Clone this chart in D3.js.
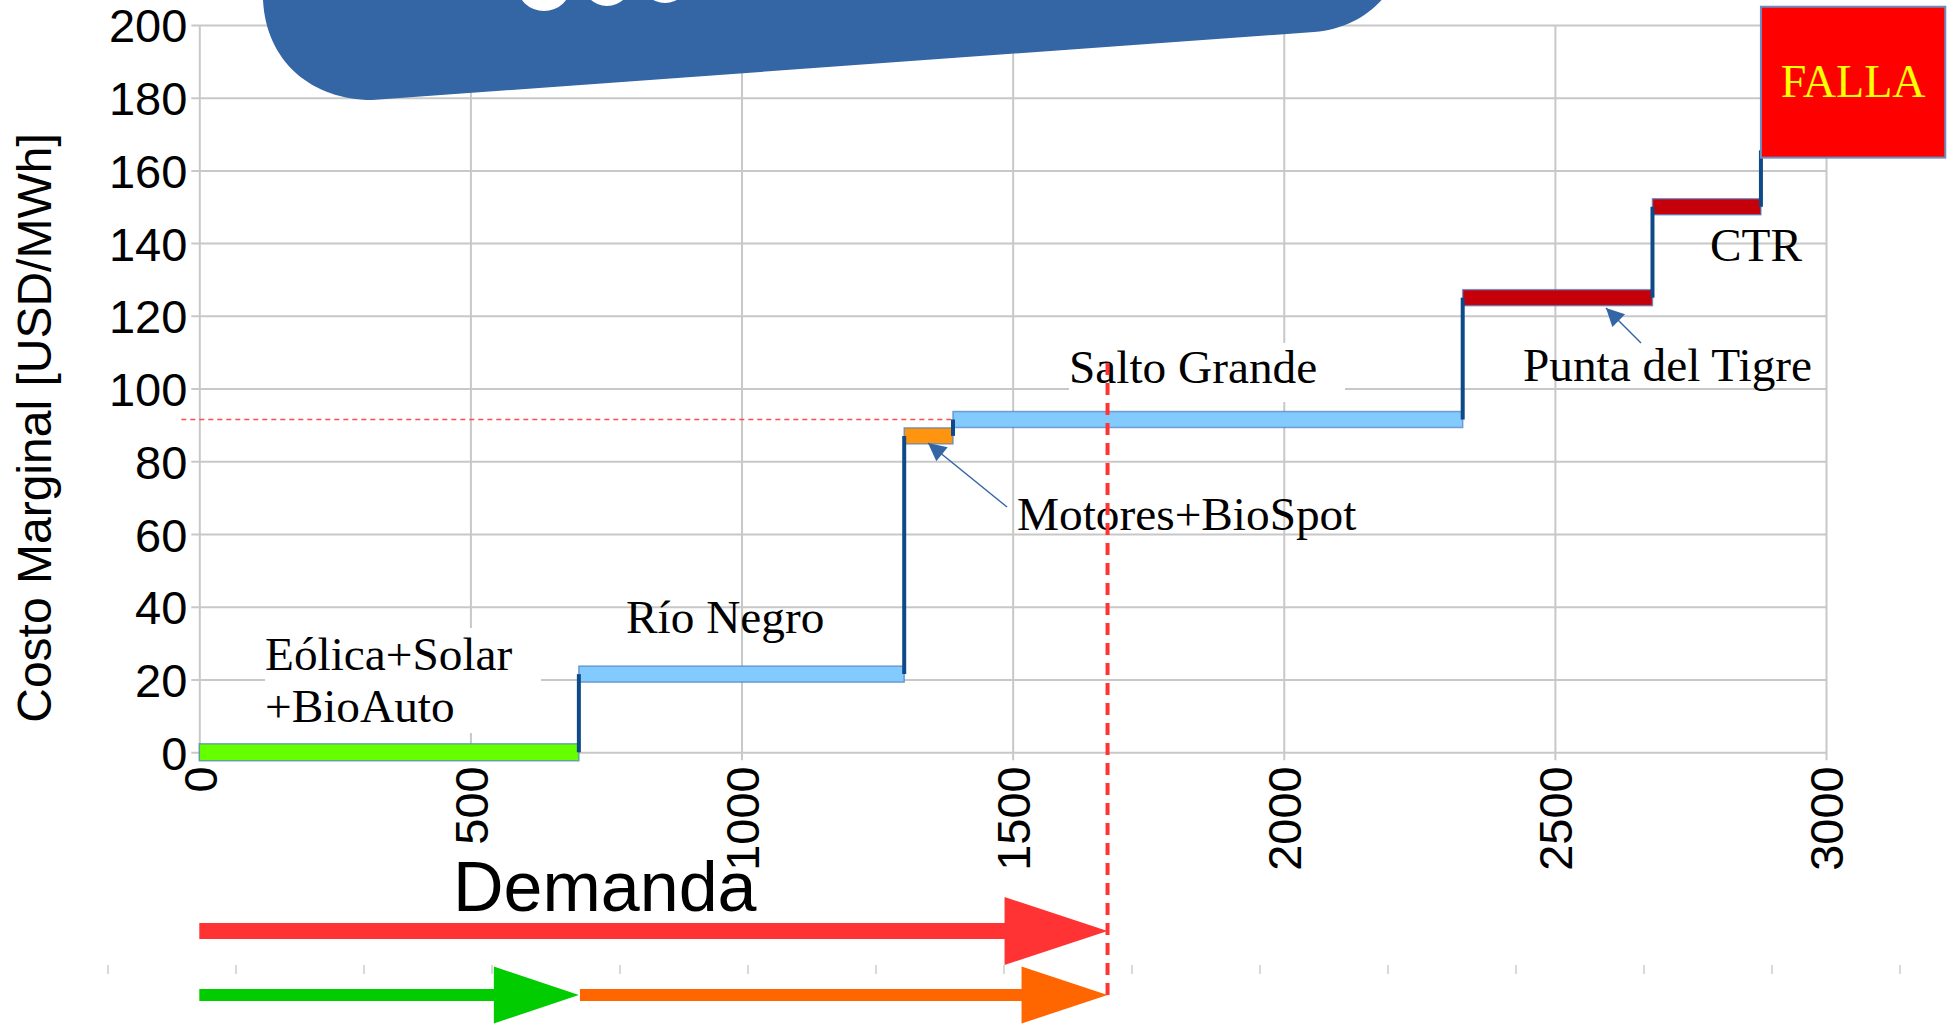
<!DOCTYPE html>
<html>
<head>
<meta charset="utf-8">
<script src="https://cdn.jsdelivr.net/npm/d3@7"></script>
<style>
  body { margin: 0; background: #ffffff; }
</style>
</head>
<body>
<script>
// Datos del despacho (tramos de la curva de oferta)
const tramos = ["Eólica+Solar+BioAuto", "Río Negro", "Motores+BioSpot", "Salto Grande", "Punta del Tigre", "CTR"];
const inicioMW = [0, 700, 1300, 1390, 2330, 2680];
const finMW = [700, 1300, 1390, 2330, 2680, 2880];
const costoUSD = [0, 21.5, 87, 91.5, 125, 150];
const coloresTramo = ["#66ff00", "#83caff", "#ff950e", "#83caff", "#c5000b", "#c5000b"];

// Bloque de falla
const fallaMW = [2880, 3220];
const fallaCosto = [163.5, 205];

// Demanda y costo marginal resultante
const demandaMW = 1675;
const costoMarginal = 91.5;

const ticksX = [0, 500, 1000, 1500, 2000, 2500, 3000];
const ticksY = [0, 20, 40, 60, 80, 100, 120, 140, 160, 180, 200];

// Constantes de la visualización
const WIDTH = 1953;
const HEIGHT = 1030;
const PLOT = { left: 199.3, right: 1826, top: 24.9, bottom: 752.3 };
const SANS = "'Liberation Sans', Arial, sans-serif";
const SERIF = "'Liberation Serif', 'Times New Roman', serif";

const svg = d3.select("body")
  .append("svg")
  .attr("width", WIDTH)
  .attr("height", HEIGHT)
  .style("display", "block");

svg.append("rect").attr("width", WIDTH).attr("height", HEIGHT).attr("fill", "#fff");

const x = d3.scaleLinear().domain([0, 3000]).range([PLOT.left, PLOT.right]);
const y = d3.scaleLinear().domain([0, 200]).range([PLOT.bottom, PLOT.top]);

// Grilla + eje Y
const ejeY = svg.append("g")
  .attr("transform", `translate(${PLOT.left},0)`)
  .call(d3.axisLeft(y).tickValues(ticksY).tickSize(-(PLOT.right - PLOT.left)).tickPadding(12));
ejeY.select(".domain").remove();
ejeY.selectAll("line").attr("x1", -8).attr("stroke", "#c8c8c8").attr("stroke-width", 2);
ejeY.selectAll("text")
  .attr("font-family", SANS).attr("font-size", 47).attr("fill", "#000")
  .attr("x", -12).attr("dy", "0.36em");

// Grilla + eje X
const ejeX = svg.append("g")
  .attr("transform", `translate(0,${PLOT.bottom})`)
  .call(d3.axisBottom(x).tickValues(ticksX).tickFormat(d3.format("d")).tickSize(-(PLOT.bottom - PLOT.top)));
ejeX.select(".domain").remove();
ejeX.selectAll("line").attr("y1", 8).attr("stroke", "#c8c8c8").attr("stroke-width", 2);
ejeX.selectAll("text")
  .attr("font-family", SANS).attr("font-size", 47).attr("fill", "#000")
  .attr("transform", "rotate(-90)")
  .attr("text-anchor", "end")
  .attr("x", -14).attr("y", 0).attr("dy", "0.36em");

// Título del eje Y
svg.append("text")
  .attr("transform", "translate(51,428) rotate(-90)")
  .attr("text-anchor", "middle")
  .attr("font-family", SANS).attr("font-size", 48)
  .text("Costo Marginal [USD/MWh]");

// Banner azul superior (título recortado, solo asoman restos de letras)
svg.append("path")
  .attr("d", "M263,-10 L263,0 C266,62 312,100 372,100 L1314,32 C1348,29 1372,14 1390,-10 Z")
  .attr("fill", "#3465a4");
svg.append("g").selectAll("ellipse")
  .data([[544, -15, 27, 26], [607, -20, 25, 26], [665, -23, 25, 26]])
  .join("ellipse")
  .attr("cx", d => d[0]).attr("cy", d => d[1])
  .attr("rx", d => d[2]).attr("ry", d => d[3])
  .attr("fill", "#fff");

// Cajas blancas detrás de algunas etiquetas
svg.append("rect").attr("x", 265).attr("y", 628).attr("width", 276).attr("height", 105).attr("fill", "#fff");
svg.append("rect").attr("x", 1069).attr("y", 343).attr("width", 276).attr("height", 59).attr("fill", "#fff");

// Línea horizontal del costo marginal
svg.append("line")
  .attr("x1", x(0) - 18).attr("x2", x(demandaMW) - 16)
  .attr("y1", y(costoMarginal)).attr("y2", y(costoMarginal))
  .attr("stroke", "#ff4d4d").attr("stroke-width", 1.5).attr("stroke-dasharray", "5,4");

// Barras de cada tramo
const datos = tramos.map((t, i) => ({ tramo: t, ini: inicioMW[i], fin: finMW[i], costo: costoUSD[i], color: coloresTramo[i] }));
const ALTO = 16;
svg.append("g").selectAll("rect")
  .data(datos)
  .join("rect")
  .attr("x", d => x(d.ini))
  .attr("width", d => x(d.fin) - x(d.ini))
  .attr("y", (d, i) => y(d.costo) - (i === 0 ? 17 : ALTO) / 2)
  .attr("height", (d, i) => (i === 0 ? 17 : ALTO))
  .attr("fill", d => d.color)
  .attr("stroke", "#4f7fbf").attr("stroke-opacity", 0.7).attr("stroke-width", 1.5);

// Escalones verticales de la curva
const escalones = inicioMW.slice(1).map((m, i) => ({ mw: m, de: costoUSD[i], a: costoUSD[i + 1] }));
escalones.push({ mw: fallaMW[0], de: costoUSD[costoUSD.length - 1], a: fallaCosto[0] + 2 });
svg.append("g").selectAll("line")
  .data(escalones)
  .join("line")
  .attr("x1", d => x(d.mw)).attr("x2", d => x(d.mw))
  .attr("y1", d => y(d.de)).attr("y2", d => y(d.a))
  .attr("stroke", "#0e4a87").attr("stroke-width", 4);

// Bloque de falla
svg.append("rect")
  .attr("x", x(fallaMW[0])).attr("width", x(fallaMW[1]) - x(fallaMW[0]))
  .attr("y", y(fallaCosto[1])).attr("height", y(fallaCosto[0]) - y(fallaCosto[1]))
  .attr("fill", "#ff0000").attr("stroke", "#6b8fc4").attr("stroke-width", 2);
svg.append("text")
  .attr("x", (x(fallaMW[0]) + x(fallaMW[1])) / 2).attr("y", 97)
  .attr("text-anchor", "middle")
  .attr("font-family", SERIF).attr("font-size", 46).attr("fill", "#ffff00")
  .text("FALLA");

// Etiquetas de los tramos
const etiquetas = [
  { t: "Eólica+Solar", x: 265, y: 670 },
  { t: "+BioAuto", x: 265, y: 722 },
  { t: "Río Negro", x: 626, y: 633 },
  { t: "Salto Grande", x: 1069, y: 383 },
  { t: "Motores+BioSpot", x: 1017, y: 530 },
  { t: "Punta del Tigre", x: 1523, y: 381 },
  { t: "CTR", x: 1710, y: 261 },
];
svg.append("g").selectAll("text")
  .data(etiquetas)
  .join("text")
  .attr("x", d => d.x).attr("y", d => d.y)
  .attr("font-family", SERIF).attr("font-size", 47.3).attr("fill", "#000")
  .text(d => d.t);

// Flechas de anotación
svg.append("defs").append("marker")
  .attr("id", "punta")
  .attr("viewBox", "0 0 10 10").attr("refX", 10).attr("refY", 5)
  .attr("markerUnits", "userSpaceOnUse")
  .attr("markerWidth", 26).attr("markerHeight", 18)
  .attr("orient", "auto")
  .append("path").attr("d", "M0,0 L10,5 L0,10 Z").attr("fill", "#3465a4");

const anotaciones = [
  { x1: 1007, y1: 507, x2: 928, y2: 443 },
  { x1: 1641, y1: 343, x2: 1606, y2: 308 },
];
svg.append("g").selectAll("line")
  .data(anotaciones)
  .join("line")
  .attr("x1", d => d.x1).attr("y1", d => d.y1)
  .attr("x2", d => d.x2).attr("y2", d => d.y2)
  .attr("stroke", "#3465a4").attr("stroke-width", 1.5)
  .attr("marker-end", "url(#punta)");

// Línea vertical de la demanda
svg.append("line")
  .attr("x1", x(demandaMW)).attr("x2", x(demandaMW))
  .attr("y1", 363).attr("y2", 995)
  .attr("stroke", "#ff3333").attr("stroke-width", 4).attr("stroke-dasharray", "12,8");

// Texto "Demanda"
svg.append("text")
  .attr("x", 453).attr("y", 911)
  .attr("font-family", SANS).attr("font-size", 70)
  .text("Demanda");

// Regla de marcas grises
svg.append("g").selectAll("line")
  .data(d3.range(15))
  .join("line")
  .attr("x1", k => 108 + 128 * k).attr("x2", k => 108 + 128 * k)
  .attr("y1", 965).attr("y2", 974)
  .attr("stroke", "#cccccc").attr("stroke-width", 1.5);

// Flechas gruesas de demanda
function flecha(desde, hasta, yc, grosor, largoPunta, altoPunta, color) {
  const x0 = x(desde), x1 = x(hasta);
  const xb = x1 - largoPunta;
  svg.append("path")
    .attr("d", `M${x0},${yc - grosor / 2} L${xb},${yc - grosor / 2} L${xb},${yc - altoPunta / 2} L${x1},${yc} L${xb},${yc + altoPunta / 2} L${xb},${yc + grosor / 2} L${x0},${yc + grosor / 2} Z`)
    .attr("fill", color);
}
flecha(0, demandaMW, 931, 16, 103, 68, "#ff3333");
flecha(0, inicioMW[1], 995, 12, 85, 57, "#00cc00");
flecha(inicioMW[1] + 2, demandaMW, 995, 12, 86, 57, "#ff6600");
</script>
</body>
</html>
